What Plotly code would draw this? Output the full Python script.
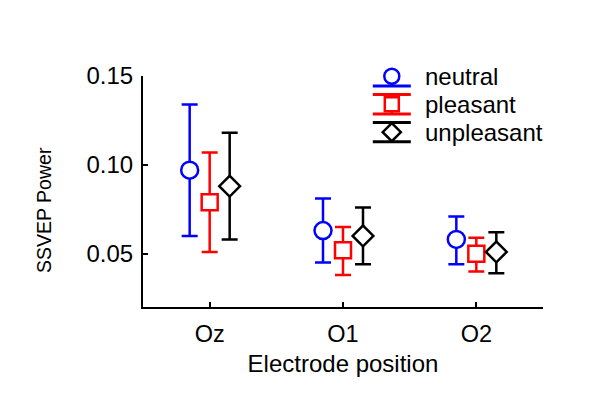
import plotly.graph_objects as go

electrodes = ["Oz", "O1", "O2"]
conditions = ["neutral", "pleasant", "unpleasant"]

neutral_mean = [0.097, 0.063, 0.058]
neutral_hi = [0.134, 0.081, 0.071]
neutral_lo = [0.060, 0.045, 0.044]

pleasant_mean = [0.079, 0.052, 0.050]
pleasant_hi = [0.107, 0.065, 0.059]
pleasant_lo = [0.051, 0.038, 0.040]

unpleasant_mean = [0.088, 0.060, 0.051]
unpleasant_hi = [0.118, 0.076, 0.062]
unpleasant_lo = [0.058, 0.044, 0.039]

y_ticks = [0.05, 0.10, 0.15]
y_tick_text = ["0.05", "0.10", "0.15"]

series = [
    ("neutral", neutral_mean, neutral_hi, neutral_lo, "#0000ff", "circle", 17, -0.15),
    ("pleasant", pleasant_mean, pleasant_hi, pleasant_lo, "#ff0000", "square", 16, 0.0),
    ("unpleasant", unpleasant_mean, unpleasant_hi, unpleasant_lo, "#000000", "diamond", 16, 0.15),
]

FONT = "Liberation Sans, Arial, sans-serif"
fig = go.Figure()

for name, mean, hi, lo, color, sym, size, off in series:
    xs = [i + 1 + off for i in range(len(electrodes))]
    fig.add_trace(go.Scatter(
        x=xs, y=mean, mode="markers", name=name, showlegend=False,
        marker=dict(symbol=sym, size=size, color="white", line=dict(color=color, width=2.5)),
        error_y=dict(type="data", symmetric=False,
                     array=[h - m for h, m in zip(hi, mean)],
                     arrayminus=[m - l for m, l in zip(mean, lo)],
                     color=color, thickness=2.5, width=8),
        cliponaxis=False,
    ))

# custom legend (glyphs on an invisible overlay axis in plot-fraction units)
leg_x = 0.622
leg_y = [0.999, 0.878, 0.757]
for (name, mean, hi, lo, color, sym, size, off), ly in zip(series, leg_y):
    fig.add_trace(go.Scatter(
        x=[leg_x], y=[ly], mode="markers", showlegend=False,
        xaxis="x2", yaxis="y2",
        marker=dict(symbol=sym, size=size - 2, color="white", line=dict(color=color, width=2.5)),
        error_y=dict(type="constant", value=0.042, color=color, thickness=3, width=19),
        cliponaxis=False,
    ))
    fig.add_annotation(x=leg_x + 0.078, y=ly, xref="x2", yref="y2", text=name,
                       showarrow=False, xanchor="left", yanchor="middle",
                       font=dict(family=FONT, size=24, color="black"))

# y-axis title
fig.add_annotation(x=-0.2475, y=0.42, xref="paper", yref="paper", text="SSVEP Power",
                   textangle=-90, showarrow=False, xanchor="center", yanchor="middle",
                   font=dict(family=FONT, size=19.5, color="black"))

fig.update_layout(
    width=592, height=408,
    margin=dict(l=135, r=57, t=68, b=109),
    paper_bgcolor="white", plot_bgcolor="white",
    font=dict(family=FONT, size=24, color="black"),
    xaxis=dict(range=[0.5, 3.5], tickvals=[1, 2, 3], ticktext=electrodes,
               showgrid=False, zeroline=False, showline=True, linecolor="black", linewidth=2,
               ticks="inside", ticklen=5, tickwidth=2, tickcolor="black",
               ticklabelstandoff=5, tickfont=dict(size=23.5),
               title=dict(text="Electrode position", standoff=9, font=dict(size=24))),
    yaxis=dict(range=[0.02, 0.15], tickvals=y_ticks, ticktext=y_tick_text,
               showgrid=False, zeroline=False, showline=True, linecolor="black", linewidth=2,
               ticks="inside", ticklen=5, tickwidth=2, tickcolor="black",
               ticklabelstandoff=3, tickfont=dict(size=24)),
    xaxis2=dict(range=[0, 1], overlaying="x", visible=False, fixedrange=True),
    yaxis2=dict(range=[0, 1], overlaying="y", visible=False, fixedrange=True),
    showlegend=False,
)

fig.write_html("out.html")
